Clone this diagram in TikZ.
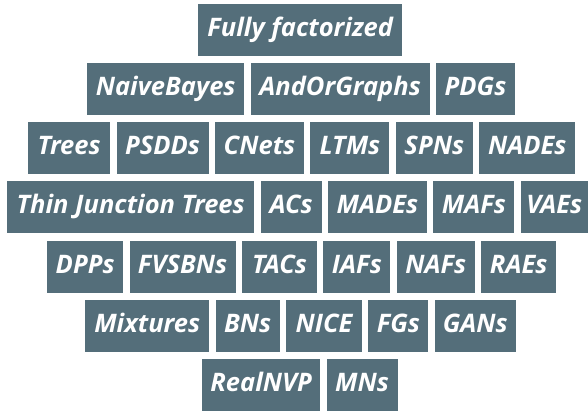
\documentclass[tikz,border=0pt]{standalone}
\usepackage{fontspec}
\setmainfont{Open Sans}
\usepackage{tikz}
\usetikzlibrary{positioning}

\definecolor{slate}{HTML}{546E7A}

\begin{document}
\begin{tikzpicture}[
    x=1pt, y=-1pt,
    node distance=6pt,
    every node/.style={font=\fontsize{25.5}{25.5}\selectfont\bfseries\itshape},
    model/.style={rectangle, fill=slate, text=white, minimum height=52pt, inner xsep=0pt, text height=18.5pt, text depth=5.5pt, align=center}
]
\useasboundingbox (0,0) rectangle (588,410);

% Row 1
\node[model, anchor=north west, minimum width=204pt] (fully) at (198,4) {Fully factorized};

% Row 2
\node[model, anchor=north west, minimum width=157pt] (naivebayes) at (87,63) {NaiveBayes};
\node[model, right=of naivebayes, minimum width=179pt] (andor) {AndOrGraphs};
\node[model, right=of andor, minimum width=79pt] (pdgs) {PDGs};

% Row 3
\node[model, anchor=north west, minimum width=82pt] (trees) at (28,122) {Trees};
\node[model, right=of trees, minimum width=92pt] (psdds) {PSDDs};
\node[model, right=of psdds, minimum width=89pt] (cnets) {CNets};
\node[model, right=of cnets, minimum width=79pt] (ltms) {LTMs};
\node[model, right=of ltms, minimum width=77pt] (spns) {SPNs};
\node[model, right=of spns, minimum width=96pt] (nades) {NADEs};

% Row 4
\node[model, anchor=north west, minimum width=247pt] (thinjt) at (7,181) {Thin Junction Trees};
\node[model, right=of thinjt, minimum width=61pt] (acs) {ACs};
\node[model, right=of acs, minimum width=99pt] (mades) {MADEs};
\node[model, right=of mades, minimum width=81pt] (mafs) {MAFs};
\node[model, right=of mafs, minimum width=67pt] (vaes) {VAEs};

% Row 5
\node[model, anchor=north west, minimum width=76pt] (dpps) at (47,241) {DPPs};
\node[model, right=of dpps, minimum width=106pt] (fvsbns) {FVSBNs};
\node[model, right=of fvsbns, minimum width=75pt] (tacs) {TACs};
\node[model, right=of tacs, minimum width=67pt] (iafs) {IAFs};
\node[model, right=of iafs, minimum width=78pt] (nafs) {NAFs};
\node[model, right=of nafs, minimum width=75pt] (raes) {RAEs};

% Row 6
\node[model, anchor=north west, minimum width=124pt] (mixtures) at (85,300) {Mixtures};
\node[model, right=of mixtures, minimum width=64pt] (bns) {BNs};
\node[model, right=of bns, minimum width=76pt] (nice) {NICE};
\node[model, right=of nice, minimum width=60pt] (fgs) {FGs};
\node[model, right=of fgs, minimum width=81pt] (gans) {GANs};

% Row 7
\node[model, anchor=north west, minimum width=118pt] (realnvp) at (202,359) {RealNVP};
\node[model, right=of realnvp, minimum width=71pt] (mns) {MNs};

\end{tikzpicture}
\end{document}
